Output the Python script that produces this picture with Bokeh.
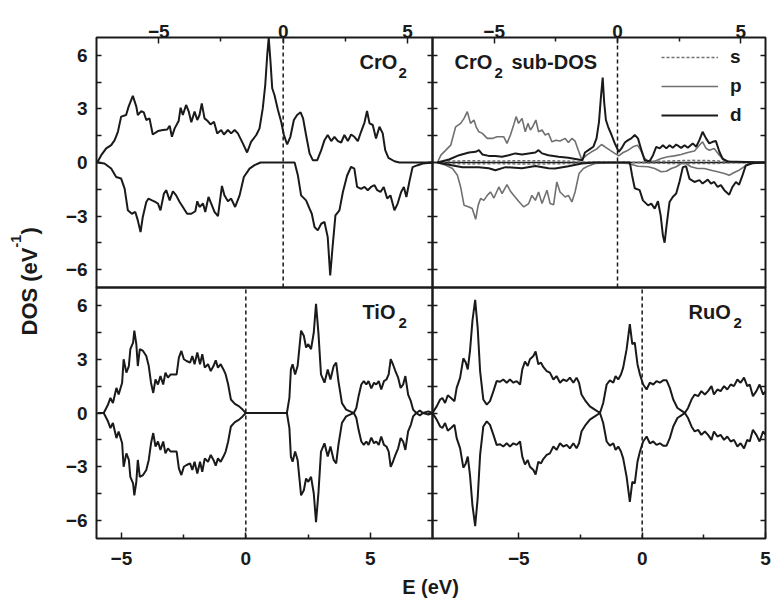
from bokeh.plotting import figure
from bokeh.models import (Range1d, LinearAxis, FixedTicker, CustomJSTickFormatter,
                          BoxAnnotation, Label, Legend, LegendItem)
from bokeh.embed import file_html
from bokeh.resources import INLINE

# ---------------- data (E in eV, DOS in states/eV) ----------------
x_ticks = [-5, 0, 5]
x_minor = [-2.5, 2.5]
y_ticks = [-6, -3, 0, 3, 6]
y_minor = [-4.5, -1.5, 1.5, 4.5]
fermi_level = 0.0

cro2_up = [(-7.47,0),(-7.31,0.41),(-7.11,0.79),(-6.91,0.97),(-6.77,1.25),(-6.64,1.72),(-6.51,2.57),
           (-6.31,2.66),(-6.21,3.13),(-6.04,3.73),(-5.90,3.13),(-5.84,2.66),(-5.70,2.88),(-5.60,2.81),
           (-5.50,2.38),(-5.37,2.47),(-5.24,1.57),(-5.03,1.76),(-4.83,1.82),(-4.66,1.85),(-4.56,2.06),
           (-4.47,1.44),(-4.36,1.91),(-4.20,2.32),(-4.12,3.07),(-4.03,2.66),(-3.90,3.22),(-3.80,2.88),
           (-3.69,2.25),(-3.56,2.85),(-3.45,2.38),(-3.36,2.66),(-3.27,3.31),(-3.16,2.47),(-3.03,2.32),
           (-2.92,2.13),(-2.78,2.28),(-2.65,1.63),(-2.49,1.82),(-2.38,1.57),(-2.22,1.82),(-2.09,1.63),
           (-1.95,1.82),(-1.82,1.63),(-1.62,1.07),(-1.45,0.56),(-1.29,1.16),(-1.08,1.54),(-0.95,1.91),
           (-0.82,3.03),(-0.72,4.34),(-0.64,6.03),(-0.58,7.0),(-0.51,5.66),(-0.44,4.16),(-0.35,3.78),
           (-0.21,2.94),(-0.08,2.28),(0.03,1.54),(0.16,1.01),(0.29,1.44),(0.43,2.38),(0.56,2.66),
           (0.70,2.81),(0.80,2.47),(0.92,1.54),(1.06,0.51),(1.19,0.13),(1.37,0.13),(1.53,0.69),
           (1.66,1.25),(1.79,1.54),(1.93,1.20),(2.06,1.44),(2.20,1.20),(2.33,1.12),(2.46,1.54),
           (2.60,1.20),(2.73,1.57),(2.86,1.44),(3.00,1.20),(3.13,1.72),(3.27,2.25),(3.37,2.88),
           (3.47,2.19),(3.60,2.10),(3.73,1.35),(3.87,2.00),(4.00,1.63),(4.10,0.69),(4.23,0.26),
           (4.47,0.07),(4.67,0),(6.0,0)]

cro2_dn = [(-7.47,0),(-7.18,-0.06),(-6.91,-0.34),(-6.71,-0.81),(-6.51,-0.90),(-6.37,-1.46),(-6.24,-2.68),
           (-6.08,-2.87),(-5.94,-2.77),(-5.84,-3.24),(-5.73,-3.90),(-5.64,-3.05),(-5.50,-2.21),(-5.41,-2.02),
           (-5.27,-2.12),(-5.14,-2.21),(-5.03,-2.30),(-4.93,-2.68),(-4.79,-1.74),(-4.70,-1.55),(-4.56,-2.12),
           (-4.43,-1.61),(-4.30,-1.84),(-4.16,-2.21),(-4.03,-2.49),(-3.86,-2.87),(-3.69,-2.87),(-3.53,-2.73),
           (-3.45,-2.17),(-3.36,-2.49),(-3.22,-2.30),(-3.13,-2.77),(-3.00,-1.93),(-2.89,-2.30),(-2.76,-2.77),
           (-2.62,-3.00),(-2.46,-1.31),(-2.36,-1.84),(-2.22,-2.17),(-2.09,-2.02),(-1.93,-2.49),(-1.75,-1.84),
           (-1.58,-0.81),(-1.35,-0.34),(-1.15,-0.15),(-0.91,0),(0.46,0),(0.59,-0.71),(0.72,-1.84),
           (0.92,-2.12),(1.06,-2.58),(1.15,-2.87),(1.26,-3.61),(1.39,-3.80),(1.53,-3.43),(1.66,-3.33),
           (1.79,-4.18),(1.89,-6.33),(1.99,-4.65),(2.10,-2.96),(2.26,-2.68),(2.40,-1.65),(2.57,-0.73),
           (2.73,-0.24),(2.86,-0.34),(2.97,-1.37),(3.13,-1.48),(3.27,-1.37),(3.40,-1.55),(3.53,-1.37),
           (3.67,-1.27),(3.78,-1.55),(3.91,-1.65),(4.04,-1.37),(4.18,-2.02),(4.31,-1.84),(4.47,-2.68),
           (4.60,-2.30),(4.74,-1.65),(4.85,-1.37),(4.95,-1.93),(5.07,-1.08),(5.20,-0.26),(5.41,-0.15),
           (5.61,-0.06),(6.0,0)]

p_up = [(-7.30,0),(-7.16,0.41),(-6.96,0.69),(-6.76,0.97),(-6.67,1.44),(-6.56,2.00),(-6.36,2.19),
        (-6.22,2.47),(-6.09,2.85),(-5.96,2.19),(-5.82,2.38),(-5.73,2.00),(-5.62,1.72),(-5.48,1.63),
        (-5.28,1.35),(-5.08,1.35),(-4.88,1.44),(-4.74,1.44),(-4.61,1.44),(-4.48,1.07),(-4.34,1.54),
        (-4.21,2.10),(-4.11,2.57),(-4.01,2.19),(-3.87,2.47),(-3.74,1.72),(-3.63,2.19),(-3.53,1.82),
        (-3.44,2.00),(-3.31,2.38),(-3.20,1.72),(-3.06,1.82),(-2.93,1.54),(-2.80,1.63),(-2.66,1.16),
        (-2.50,1.25),(-2.33,1.20),(-2.12,1.35),(-1.99,1.12),(-1.85,1.35),(-1.72,1.20),(-1.59,0.69),
        (-1.45,0.17),(-1.25,0.41),(-1.05,0.60),(-0.85,0.75),(-0.65,1.01),(-0.51,0.88),(-0.31,0.69),
        (-0.11,0.51),(0.05,0.37),(0.23,0.56),(0.43,0.69),(0.63,0.88),(0.81,0.97),(0.94,0.69),
        (1.08,0.26),(1.24,0.07),(1.51,0.07),(1.77,0.22),(2.04,0.32),(2.31,0.37),(2.58,0.45),
        (2.85,0.56),(3.12,0.64),(3.32,0.97),(3.45,1.16),(3.59,0.79),(3.72,0.69),(3.92,0.79),
        (4.13,0.41),(4.33,0.13),(4.60,0.04),(6.0,0)]

d_up = [(-7.30,0),(-6.83,0.17),(-6.42,0.41),(-6.02,0.56),(-5.75,0.60),(-5.62,0.69),(-5.48,0.45),
        (-5.22,0.37),(-4.95,0.37),(-4.68,0.32),(-4.41,0.41),(-4.14,0.51),(-3.87,0.45),(-3.60,0.51),
        (-3.33,0.56),(-3.20,0.69),(-3.06,0.51),(-2.80,0.41),(-2.39,0.32),(-1.99,0.26),(-1.59,0.17),
        (-1.42,0.13),(-1.32,0.56),(-1.12,0.75),(-0.98,0.88),(-0.85,1.35),(-0.75,2.28),(-0.67,3.69),
        (-0.60,4.76),(-0.54,3.37),(-0.47,2.38),(-0.38,2.00),(-0.24,1.54),(-0.11,1.07),(0.05,0.60),
        (0.16,0.79),(0.30,1.12),(0.43,1.25),(0.56,1.35),(0.70,1.54),(0.83,1.35),(0.97,0.69),
        (1.10,0.13),(1.30,0.07),(1.44,0.41),(1.57,0.88),(1.71,0.79),(1.84,0.97),(1.98,0.79),
        (2.11,0.97),(2.24,0.82),(2.38,1.01),(2.58,0.82),(2.72,0.97),(2.85,0.82),(3.05,1.07),
        (3.19,0.88),(3.32,1.25),(3.45,1.72),(3.59,1.35),(3.72,1.07),(3.86,1.16),(3.99,1.20),
        (4.13,0.60),(4.26,0.21),(4.46,0.06),(6.0,0)]

p_dn = [(-7.30,0),(-6.96,-0.15),(-6.69,-0.34),(-6.49,-0.71),(-6.36,-1.37),(-6.22,-2.40),(-6.02,-2.49),
        (-5.89,-2.58),(-5.75,-3.18),(-5.65,-2.40),(-5.55,-2.02),(-5.42,-2.12),(-5.28,-1.84),(-5.15,-1.65),
        (-5.01,-1.99),(-4.81,-1.37),(-4.68,-1.74),(-4.48,-1.24),(-4.34,-1.61),(-4.21,-1.84),(-4.01,-2.17),
        (-3.80,-2.49),(-3.60,-2.30),(-3.47,-1.84),(-3.33,-2.12),(-3.20,-1.65),(-3.06,-2.30),(-2.86,-1.55),
        (-2.73,-2.30),(-2.59,-2.36),(-2.46,-1.09),(-2.33,-1.65),(-2.12,-1.93),(-1.99,-1.84),(-1.85,-2.21),
        (-1.72,-1.65),(-1.56,-0.62),(-1.38,-0.34),(-1.18,-0.19),(-0.91,-0.06),(-0.11,0),(0.43,-0.06),
        (0.83,-0.21),(1.24,-0.24),(1.51,-0.34),(1.77,-0.52),(1.98,-0.49),(2.18,-0.34),(2.38,-0.24),
        (2.58,-0.06),(2.78,-0.06),(2.98,-0.24),(3.25,-0.34),(3.52,-0.34),(3.79,-0.43),(4.06,-0.52),
        (4.33,-0.62),(4.53,-0.71),(4.73,-0.56),(4.93,-0.43),(5.13,-0.24),(5.34,-0.06),(6.0,0)]

d_dn = [(-7.30,0),(-6.83,-0.13),(-6.29,-0.26),(-5.62,-0.26),(-5.22,-0.32),(-4.95,-0.43),(-4.54,-0.26),
        (-3.87,-0.32),(-3.33,-0.19),(-2.80,-0.32),(-2.53,-0.34),(-1.99,-0.21),(-1.45,-0.06),(-0.91,0),
        (0.50,0),(0.59,-0.71),(0.70,-1.44),(0.90,-1.55),(1.03,-2.12),(1.24,-2.40),(1.37,-2.30),
        (1.51,-2.58),(1.64,-2.17),(1.75,-2.96),(1.84,-4.08),(1.91,-4.49),(1.99,-3.52),(2.11,-2.21),
        (2.24,-1.93),(2.38,-1.74),(2.51,-1.09),(2.65,-0.26),(2.78,-0.21),(2.92,-0.92),(3.12,-1.09),
        (3.32,-0.99),(3.45,-1.18),(3.66,-0.96),(3.79,-1.18),(3.92,-1.09),(4.06,-1.37),(4.19,-1.27),
        (4.33,-1.55),(4.53,-1.80),(4.66,-1.37),(4.80,-1.09),(4.93,-1.24),(5.07,-0.71),(5.20,-0.17),
        (5.47,-0.04),(6.0,0)]

s_up = [(-7.3,0),(-6.8,0.08),(-6.0,0.1),(-5.0,0.08),(-4.0,0.1),(-3.0,0.1),(-2.0,0.08),(-1.5,0.03),
        (-1.0,0.02),(0.0,0.02),(1.0,0.02),(2.0,0.08),(3.0,0.12),(4.0,0.1),(4.5,0.02),(6.0,0)]
s_dn = [(-7.3,0),(-6.8,-0.05),(-6.0,-0.08),(-5.0,-0.06),(-4.0,-0.08),(-3.0,-0.08),(-2.0,-0.06),
        (-1.5,-0.02),(-1.0,0),(0.0,0),(1.0,-0.02),(2.0,-0.05),(3.0,-0.06),(4.0,-0.06),(4.5,-0.02),(6.0,0)]

tio2_up = [(-5.95,0),(-5.71,0),(-5.55,0.43),(-5.44,0.84),(-5.34,0.56),(-5.20,1.40),(-5.11,1.03),
           (-4.97,1.69),(-4.91,3.00),(-4.80,2.25),(-4.70,2.62),(-4.64,3.56),(-4.53,3.93),(-4.48,4.59),
           (-4.40,3.84),(-4.34,2.62),(-4.26,3.56),(-4.13,3.46),(-4.00,3.18),(-3.90,2.62),(-3.81,1.69),
           (-3.72,1.12),(-3.63,1.87),(-3.53,1.59),(-3.43,2.06),(-3.32,1.59),(-3.23,2.25),(-3.13,1.97),
           (-3.02,2.15),(-2.89,2.15),(-2.78,2.15),(-2.69,3.09),(-2.59,3.46),(-2.49,3.00),(-2.38,2.90),
           (-2.24,2.81),(-2.15,3.18),(-2.06,2.72),(-1.95,3.37),(-1.84,2.72),(-1.75,3.28),(-1.65,2.53),
           (-1.52,2.72),(-1.41,2.34),(-1.30,2.62),(-1.21,2.94),(-1.12,2.53),(-1.01,2.72),(-0.90,2.43),
           (-0.81,2.15),(-0.71,1.59),(-0.60,0.75),(-0.44,0.51),(-0.27,0.37),(-0.13,0.19),(0,0),
           (1.65,0),(1.75,0.84),(1.81,2.43),(1.88,2.72),(1.98,2.15),(2.08,2.62),(2.22,4.59),
           (2.33,4.31),(2.42,3.65),(2.51,3.84),(2.62,3.56),(2.73,4.49),(2.82,6.09),(2.92,4.40),
           (3.02,2.15),(3.16,1.69),(3.29,2.43),(3.40,1.87),(3.53,2.62),(3.63,2.81),(3.72,1.78),
           (3.86,0.56),(4.03,0.19),(4.23,0.06),(4.34,0),(4.44,0.28),(4.53,0.94),(4.64,1.59),
           (4.74,1.78),(4.84,1.59),(4.93,1.78),(5.04,1.37),(5.15,1.69),(5.24,1.59),(5.34,1.78),
           (5.44,1.31),(5.55,1.78),(5.65,1.87),(5.74,2.15),(5.82,3.00),(5.91,2.72),(6.01,2.34),
           (6.12,1.97),(6.22,1.40),(6.32,1.59),(6.41,2.06),(6.52,1.03),(6.63,0.66),(6.72,0.19),
           (6.85,0),(6.99,0.13),(7.12,0),(7.33,0.09),(7.5,0)]

ruo2_up = [(-8.50,0),(-8.33,0.37),(-8.19,0.75),(-8.10,0.84),(-7.99,0.56),(-7.88,0.99),(-7.75,0.84),
           (-7.61,0.66),(-7.52,1.40),(-7.38,1.97),(-7.25,3.05),(-7.15,2.81),(-7.07,2.43),(-6.98,3.46),
           (-6.88,5.15),(-6.77,6.31),(-6.67,4.78),(-6.57,2.34),(-6.44,0.75),(-6.30,0.47),(-6.17,0.66),
           (-6.03,1.22),(-5.90,1.78),(-5.76,1.74),(-5.63,1.87),(-5.49,1.69),(-5.36,1.87),(-5.22,1.69),
           (-5.09,1.78),(-4.95,1.59),(-4.86,2.43),(-4.75,2.87),(-4.64,2.62),(-4.55,3.00),(-4.41,3.18),
           (-4.32,3.43),(-4.21,2.72),(-4.10,2.81),(-4.01,2.57),(-3.87,2.34),(-3.74,2.25),(-3.60,1.87),
           (-3.47,2.06),(-3.33,1.69),(-3.20,1.87),(-3.06,1.78),(-2.93,1.97),(-2.79,1.69),(-2.66,1.97),
           (-2.56,1.69),(-2.46,1.03),(-2.29,0.66),(-2.12,0.37),(-1.92,0.19),(-1.71,0),(-1.58,0.56),
           (-1.44,1.59),(-1.31,1.82),(-1.17,1.69),(-1.08,2.06),(-0.97,1.87),(-0.86,2.15),(-0.77,2.53),
           (-0.63,3.56),(-0.50,4.96),(-0.40,3.84),(-0.30,3.93),(-0.19,2.72),(-0.09,2.15),(0.04,1.59),
           (0.18,1.31),(0.31,1.69),(0.45,1.59),(0.58,1.78),(0.72,1.69),(0.85,1.82),(0.99,1.82),
           (1.12,1.40),(1.26,0.75),(1.43,0.28),(1.59,0.13),(1.73,0),(1.86,0.28),(2.00,0.75),
           (2.13,1.03),(2.27,0.94),(2.40,1.22),(2.54,1.03),(2.67,1.22),(2.81,1.50),(2.91,1.03),
           (3.05,1.31),(3.18,1.22),(3.32,1.50),(3.45,1.31),(3.59,1.59),(3.72,1.50),(3.86,1.87),
           (3.99,1.69),(4.13,1.97),(4.26,1.50),(4.36,1.59),(4.49,0.94),(4.63,1.22),(4.76,1.59),
           (4.90,1.03),(5.0,1.20)]

# non-magnetic oxides: spin-down is the mirror image of spin-up
tio2_dn = [(e, -v) for e, v in tio2_up]
ruo2_dn = [(e, -v) for e, v in ruo2_up]

# panel energy windows (eV) and DOS window
E_TL = (-7.5, 6.0)
E_TR = (-7.5, 6.0)
E_BL = (-6.0, 7.5)
E_BR = (-8.5, 5.0)
DOS = (-7.0, 7.0)

FONT = "Liberation Sans"
INK = "#1a1a1a"
GRAY = "#707070"
LW = 2.0

# ---------------- page geometry (pixels, origin bottom-left) ----------------
W, H = 771, 602
X0, X1, X2 = 96, 432, 765               # left edge, column split, right edge
Y0, Y1, Y2 = H - 538, H - 287, H - 37   # bottom edge, row split, top edge


def xs(pts):
    return [a for a, b in pts]


def ys(pts):
    return [b for a, b in pts]


p = figure(width=W, height=H, x_range=Range1d(0, W), y_range=Range1d(0, H),
           title=None, x_axis_location=None, y_axis_location=None,
           output_backend="svg", toolbar_location=None, min_border=0)
p.grid.visible = False
p.outline_line_color = None
p.background_fill_color = "white"
p.border_fill_color = "white"

cols = {"L": (X0, X1), "R": (X1, X2)}
rows = {"T": (Y1, Y2), "B": (Y0, Y1)}


def sub(erange, col, row_):
    return p.subplot(x_source=Range1d(*erange), y_source=Range1d(*DOS),
                     x_target=Range1d(*cols[col]), y_target=Range1d(*rows[row_]))


def full_range(vrange, seg, total):
    a, b = seg
    unit = (vrange[1] - vrange[0]) / (b - a)
    return Range1d(vrange[0] - a * unit, vrange[0] + (total - a) * unit)


p.extra_x_ranges = {
    "xtl": full_range(E_TL, cols["L"], W),
    "xtr": full_range(E_TR, cols["R"], W),
    "xbl": full_range(E_BL, cols["L"], W),
    "xbr": full_range(E_BR, cols["R"], W),
}
p.extra_y_ranges = {
    "ytop": full_range(DOS, rows["T"], H),
    "ybot": full_range(DOS, rows["B"], H),
}


def tick_style(ax, tin, tout, mtin, mtout):
    ax.major_tick_in = tin
    ax.major_tick_out = tout
    ax.minor_tick_in = mtin
    ax.minor_tick_out = mtout
    ax.major_tick_line_color = INK
    ax.minor_tick_line_color = INK
    ax.major_tick_line_width = 1.5
    ax.minor_tick_line_width = 1.5
    ax.axis_line_color = None


def label_style(ax, standoff):
    ax.major_label_text_font = FONT
    ax.major_label_text_font_style = "bold"
    ax.major_label_text_font_size = "19px"
    ax.major_label_text_color = INK
    ax.major_label_standoff = standoff


def blank(ax):
    ax.formatter = CustomJSTickFormatter(code="return ''")


# panel frames
for c in ("L", "R"):
    for r in ("T", "B"):
        p.add_layout(BoxAnnotation(left=cols[c][0], right=cols[c][1],
                                   bottom=rows[r][0], top=rows[r][1],
                                   fill_alpha=0, line_color=INK, line_alpha=1.0,
                                   line_width=2, level="underlay"))

# energy axes
for name, side, loc, standoff in [("xtl", "above", Y2, 0), ("xtr", "above", Y2, 0),
                                  ("xbl", "below", Y0, 13), ("xbr", "below", Y0, 13)]:
    ax = LinearAxis(x_range_name=name, ticker=FixedTicker(ticks=x_ticks, minor_ticks=x_minor),
                    fixed_location=loc)
    tick_style(ax, 6, 0, 4, 0)
    label_style(ax, standoff)
    p.add_layout(ax, side)

# DOS axes
for name in ["ytop", "ybot"]:
    ax = LinearAxis(y_range_name=name, ticker=FixedTicker(ticks=y_ticks, minor_ticks=y_minor),
                    fixed_location=X0)
    tick_style(ax, 5, 0, 5, 0)
    label_style(ax, 9)
    p.add_layout(ax, "left")
    mid = LinearAxis(y_range_name=name, ticker=FixedTicker(ticks=y_ticks, minor_ticks=y_minor),
                     fixed_location=X1)
    tick_style(mid, 5, 5, 5, 5)
    blank(mid)
    p.add_layout(mid, "left")
    rt = LinearAxis(y_range_name=name, ticker=FixedTicker(ticks=y_ticks, minor_ticks=y_minor),
                    fixed_location=X2)
    tick_style(rt, 5, 0, 5, 0)
    blank(rt)
    p.add_layout(rt, "right")

tl = sub(E_TL, "L", "T")
tr = sub(E_TR, "R", "T")
bl = sub(E_BL, "L", "B")
br = sub(E_BR, "R", "B")

# Fermi level markers
for s_ in (tl, tr, bl, br):
    s_.segment(x0=[fermi_level], y0=[DOS[0]], x1=[fermi_level], y1=[DOS[1]],
               line_color=INK, line_width=1.5, line_dash="4 3")
tr.segment(x0=[E_TR[0]], y0=[0], x1=[E_TR[1]], y1=[0], line_color=INK, line_width=1.5)

# curves
tl.line(xs(cro2_up), ys(cro2_up), line_color=INK, line_width=LW)
tl.line(xs(cro2_dn), ys(cro2_dn), line_color=INK, line_width=LW)

rs = tr.line(xs(s_up), ys(s_up), line_color=GRAY, line_width=1.5, line_dash="3 2")
tr.line(xs(s_dn), ys(s_dn), line_color=GRAY, line_width=1.5, line_dash="3 2")
rp = tr.line(xs(p_up), ys(p_up), line_color=GRAY, line_width=1.6)
tr.line(xs(p_dn), ys(p_dn), line_color=GRAY, line_width=1.6)
rd = tr.line(xs(d_up), ys(d_up), line_color=INK, line_width=LW)
tr.line(xs(d_dn), ys(d_dn), line_color=INK, line_width=LW)

bl.line(xs(tio2_up), ys(tio2_up), line_color=INK, line_width=LW)
bl.line(xs(tio2_dn), ys(tio2_dn), line_color=INK, line_width=LW)

br.line(xs(ruo2_up), ys(ruo2_up), line_color=INK, line_width=LW)
br.line(xs(ruo2_dn), ys(ruo2_dn), line_color=INK, line_width=LW)

leg = Legend(items=[LegendItem(label="s", renderers=[rs]),
                    LegendItem(label="p", renderers=[rp]),
                    LegendItem(label="d", renderers=[rd])],
             location=(661, 476), orientation="vertical",
             border_line_color=None, background_fill_alpha=0,
             padding=0, margin=0, spacing=7, glyph_width=57, glyph_height=20,
             label_height=20, label_standoff=12,
             label_text_font=FONT, label_text_font_style="bold",
             label_text_font_size="19px", label_text_color=INK)
p.add_layout(leg)


def txt(text, x, y, size, angle=0, align="left"):
    # x, y: pixels from the bottom-left corner of the picture
    p.add_layout(Label(x=x, y=y, x_units="screen", y_units="screen", text=text,
                       angle=angle, angle_units="deg", text_align=align,
                       text_font=FONT, text_font_style="bold", text_font_size=size,
                       text_color=INK, text_baseline="alphabetic"))


def name_label(main, x, y, subx, extra=None, extrax=None):
    txt(main, x, y, "20px")
    txt("2", subx, y - 11, "15px")
    if extra:
        txt(extra, extrax, y, "20px")


name_label("CrO", 359, 541, 398)
name_label("CrO", 454, 541, 494, extra="sub-DOS", extrax=511)
name_label("TiO", 362, 291, 398)
name_label("RuO", 688, 291, 733)

# axis titles
txt("DOS (eV", 29, 267, "22px", angle=90)
txt("-1", 15, 355, "14px", angle=90)
txt(")", 29, 368, "22px", angle=90)
txt("E (eV)", 430, 16, "20px", align="center")

open("out.html", "w").write(file_html(p, INLINE))
